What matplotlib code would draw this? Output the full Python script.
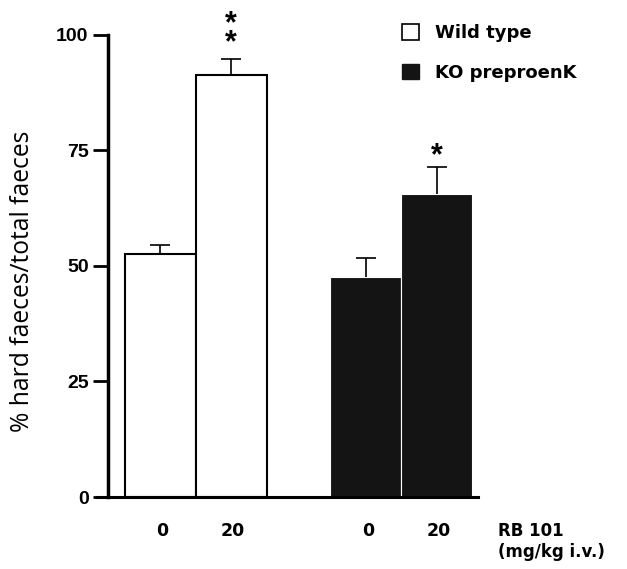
import matplotlib
matplotlib.use('Agg')
import matplotlib.pyplot as plt
from matplotlib.patches import Patch

# data
groups = ['Wild type', 'KO preproenK']
doses = ['0', '20', '0', '20']
values = [52.5, 91.2, 47.6, 65.5]
errors = [1.9, 3.5, 4.1, 5.9]
stars = ['', '**', '', '*']
positions = [0, 1, 2.9, 3.9]
y_ticks = [0, 25, 50, 75, 100]

W, H = 627, 569
fig = plt.figure(figsize=(W / 100, H / 100), dpi=100)
# axes box: x from 97 px to 478 px, y from 34.5 px to 497 px
ax = fig.add_axes([97 / W, 1 - 497 / H, (478 - 97) / W, (497 - 34.5) / H])

face = ['white', 'white', '#141414', '#141414']
edge = ['black', 'black', 'white', 'white']
star_gap = [0, 1.75, 0, 0.55]
for i in range(4):
    ax.bar(positions[i], values[i], width=1.0, color=face[i], edgecolor=edge[i],
           linewidth=1.5 if i < 2 else 0.8, zorder=2)
    _, caps, _ = ax.errorbar(positions[i], values[i], yerr=[[0], [errors[i]]], fmt='none',
                             ecolor='black', elinewidth=1.2, capsize=7, capthick=1.2,
                             zorder=3)
    caps[0].set_visible(False)  # one-sided bar: no cap at the bar top
    if stars[i]:
        top = values[i] + errors[i]
        # stacked stars as one text, anchored on the lowest star's baseline
        ax.text(positions[i], top + star_gap[i], '\n'.join(stars[i]),
                ha='center', va='baseline', fontsize=22, fontweight='bold',
                family='Liberation Sans', linespacing=0.5, clip_on=False)

ax.set_xlim(-0.89, 4.48)
ax.set_ylim(0, 100)

for s in ['top', 'right']:
    ax.spines[s].set_visible(False)
ax.spines['left'].set_position(('axes', (108 - 97) / (478 - 97)))
ax.spines['left'].set_linewidth(2.5)
ax.spines['bottom'].set_linewidth(2.2)

ax.set_yticks(y_ticks)
ax.set_yticklabels([str(v) for v in y_ticks], fontsize=14, fontweight='bold',
                   family='Liberation Sans')
ax.tick_params(axis='y', length=11, width=2, pad=3)

ax.set_xticks([p + 0.03 for p in positions])
ax.set_xticklabels(doses, fontsize=12.5, fontweight='bold', family='DejaVu Sans')
ax.tick_params(axis='x', length=0, pad=18)

fig.text(23 / W, 1 - 281 / H, '% hard faeces/total faeces', rotation=90,
         ha='center', va='center', fontsize=17.7, family='Open Sans')

fig.text(498 / W, 1 - 522 / H, 'RB 101\n(mg/kg i.v.)', ha='left', va='top',
         fontsize=12, fontweight='bold', family='DejaVu Sans', linespacing=1.2)

handles = [Patch(facecolor='white', edgecolor='black', linewidth=1.2),
           Patch(facecolor='#141414', edgecolor='#141414')]
fig.legend(handles, groups, loc='upper left', bbox_to_anchor=(393 / W, 1 - 15 / H),
           frameon=False, borderpad=0, handlelength=0.95, handleheight=0.95,
           handletextpad=0.9, labelspacing=1.2,
           prop={'family': 'DejaVu Sans', 'weight': 'bold', 'size': 13})

fig.savefig('out.png', dpi=100)
